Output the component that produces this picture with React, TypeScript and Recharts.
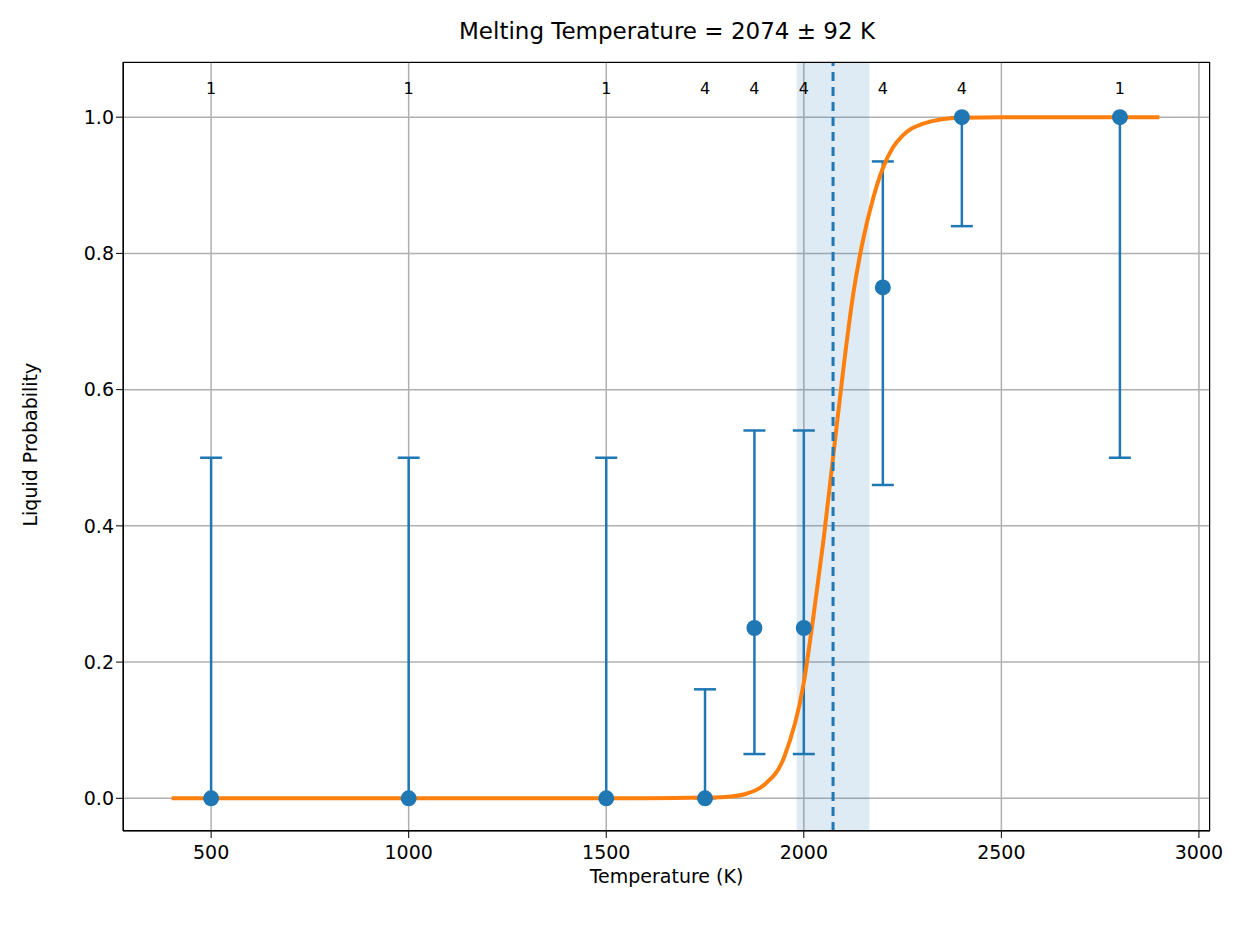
import {
  ComposedChart, Scatter, Line, XAxis, YAxis, CartesianGrid, ErrorBar,
  ReferenceLine, ReferenceArea,
} from "recharts";

const temps = [500, 1000, 1500, 1750, 1875, 2000, 2200, 2400, 2800];
const probs = [0, 0, 0, 0, 0.25, 0.25, 0.75, 1, 1];
const lowBounds = [0, 0, 0, 0, 0.065, 0.065, 0.46, 0.84, 0.5];
const highBounds = [0.5, 0.5, 0.5, 0.16, 0.54, 0.54, 0.935, 1, 1];
const counts = [1, 1, 1, 4, 4, 4, 4, 4, 1];

const curveT = [400, 1000, 1600, 1750, 1800, 1850, 1900, 1950, 2000, 2025, 2050, 2074, 2100, 2125, 2150, 2175, 2200, 2225, 2250, 2275, 2300, 2350, 2400, 2500, 2900];
const curveP = [0, 0, 0, 0.001, 0.002, 0.006, 0.02, 0.06, 0.17, 0.27, 0.38, 0.5, 0.63, 0.74, 0.82, 0.88, 0.925, 0.955, 0.973, 0.984, 0.99, 0.997, 0.999, 1, 1];

const xTicks = [500, 1000, 1500, 2000, 2500, 3000];
const yTicks = [0, 0.2, 0.4, 0.6, 0.8, 1.0];

const points = temps.map((t, i) => ({
  t, p: probs[i], err: [probs[i] - lowBounds[i], highBounds[i] - probs[i]],
}));
const curve = curveT.map((t, i) => ({ t, p: curveP[i] }));
const labels = temps.map((t, i) => ({ t, p: 1.04, n: counts[i] }));

const BLUE = "#1f77b4";
const FONT = "DejaVu Sans, sans-serif";

export default function App() {
  return (
    <div style={{ position: "absolute", left: 0, top: 0, width: 1253, height: 939, background: "#fff", fontFamily: FONT }}>
      <div style={{ position: "absolute", top: 18, width: 1334, textAlign: "center", fontSize: 23 }}>
        Melting Temperature = 2074 ± 92 K
      </div>
      <ComposedChart width={1253} height={939} margin={{ top: 62, right: 43, bottom: 48, left: 0 }}>
        <CartesianGrid stroke="#b0b0b0" strokeWidth={1.5} />
        <XAxis type="number" dataKey="t" domain={[277, 3028]} ticks={xTicks} allowDataOverflow
          height={60} tickSize={7} tick={{ fill: "#000", fontSize: 19, dy: 6 }} stroke="#000"
          label={{ value: "Temperature (K)", position: "insideBottom", offset: 8, fill: "#000", fontSize: 19 }} />
        <YAxis type="number" dataKey="p" domain={[-0.048, 1.081]} ticks={yTicks} allowDataOverflow
          width={123} tickSize={7} tick={{ fill: "#000", fontSize: 19 }} stroke="#000"
          tickFormatter={(v: number) => v.toFixed(1)}
          label={{ value: "Liquid Probability", angle: -90, position: "insideLeft", offset: 30, dy: 80, fill: "#000", fontSize: 19 }} />
        <ReferenceArea x1={1982} x2={2166} fill={BLUE} fillOpacity={0.15} stroke="none" />
        <Scatter data={points} dataKey="p" isAnimationActive={false}
          shape={(s: any) => <circle cx={s.cx} cy={s.cy} r={8} fill={BLUE} />}>
          <ErrorBar dataKey="err" direction="y" width={11} stroke={BLUE} strokeWidth={2.5} />
        </Scatter>
        <Line data={curve} dataKey="p" type="monotone" stroke="#ff7f0e" strokeWidth={4} dot={false} isAnimationActive={false} />
        <ReferenceLine x={2074} stroke={BLUE} strokeWidth={3} strokeDasharray="9 6" />
        <Scatter data={labels} dataKey="p" isAnimationActive={false}
          shape={(s: any) => <text x={s.cx} y={s.cy} textAnchor="middle" dominantBaseline="middle" fontSize={16} fill="#000">{s.payload.n}</text>} />
      </ComposedChart>
      <div style={{ position: "absolute", left: 123, top: 62, width: 1087, height: 769, border: "1.5px solid #000", boxSizing: "border-box", pointerEvents: "none" }} />
    </div>
  );
}
